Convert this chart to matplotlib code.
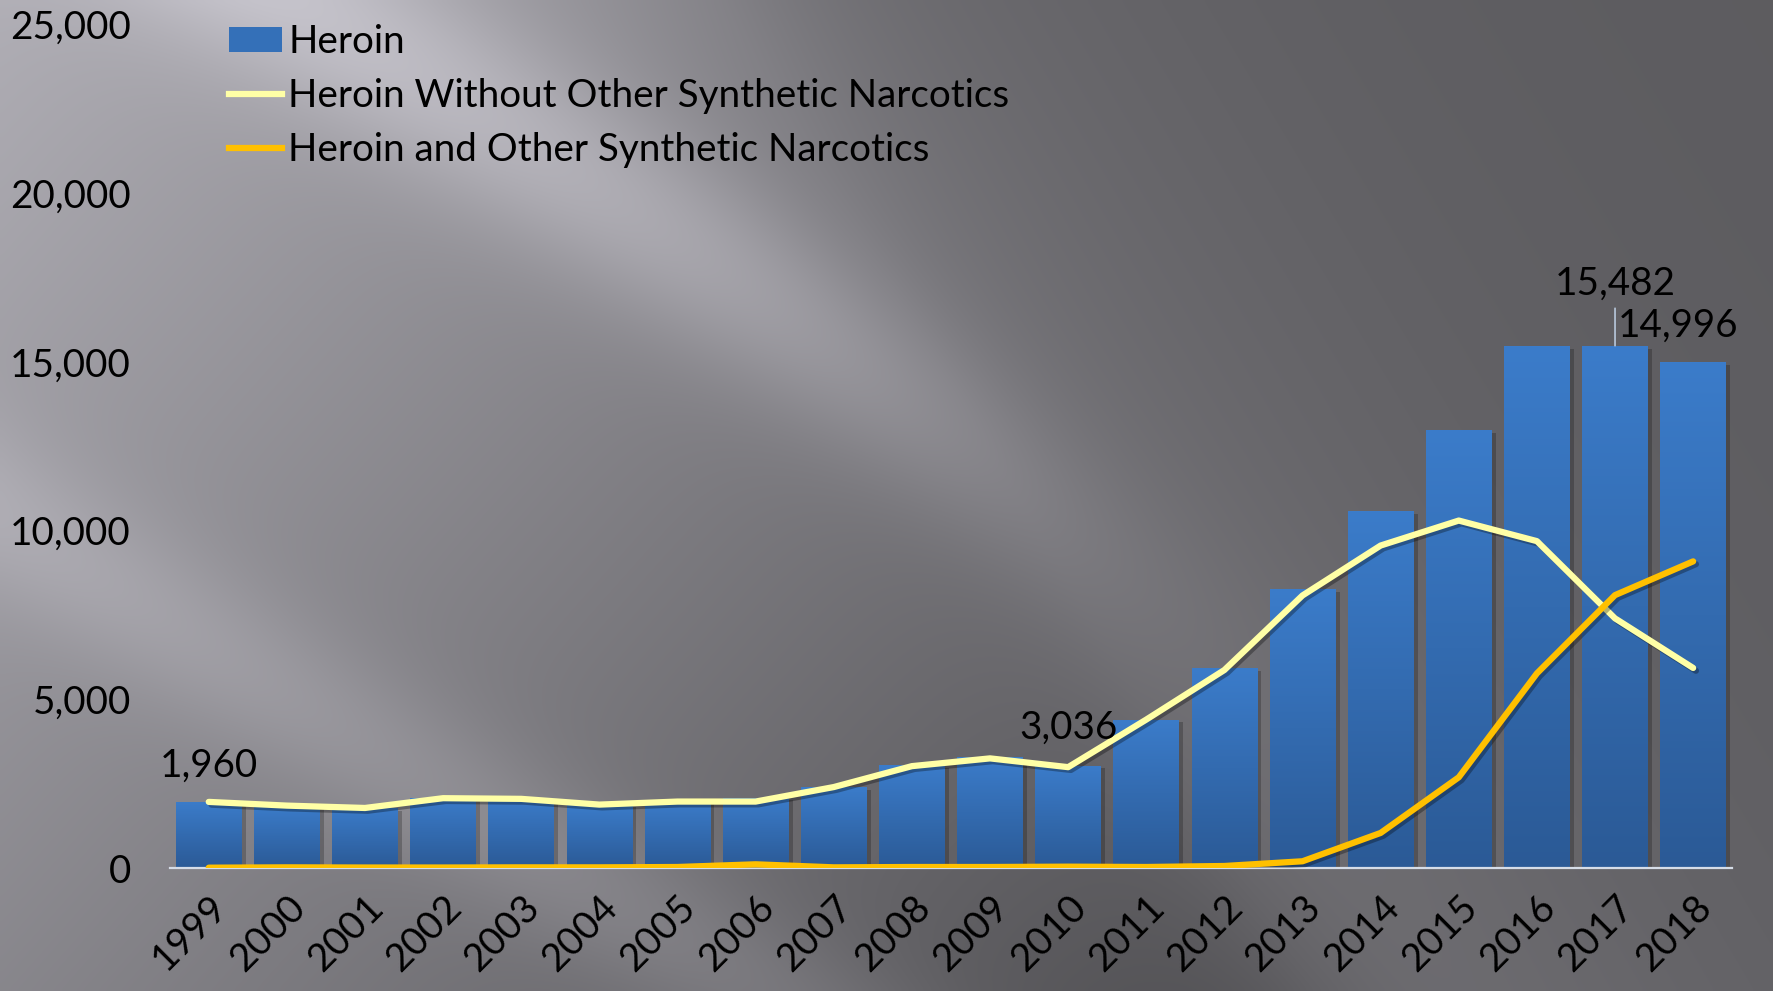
import numpy as np
import matplotlib
matplotlib.use("Agg")
import matplotlib.pyplot as plt
import matplotlib.patheffects as pe
from matplotlib.lines import Line2D
from matplotlib.patches import Patch

# ---------------- data ----------------
years = [str(y) for y in range(1999, 2019)]
heroin = [1960, 1842, 1779, 2089, 2080, 1878, 2009, 2088, 2399, 3041,
          3278, 3036, 4397, 5925, 8257, 10574, 12989, 15469, 15482, 14996]
heroin_without = [1960, 1850, 1780, 2070, 2050, 1880, 1970, 1970, 2400, 3020,
                  3250, 2990, 4400, 5870, 8080, 9560, 10300, 9690, 7400, 5930]
heroin_and = [10, 20, 15, 15, 20, 20, 30, 110, 20, 30,
              30, 40, 30, 60, 200, 1040, 2690, 5770, 8090, 9090]
labeled = {0: "1,960", 11: "3,036", 18: "15,482", 19: "14,996"}
yticks = [0, 5000, 10000, 15000, 20000, 25000]
ytick_labels = ["0", "5,000", "10,000", "15,000", "20,000", "25,000"]
series_names = ["Heroin", "Heroin Without Other Synthetic Narcotics",
                "Heroin and Other Synthetic Narcotics"]

W, H = 1773, 991
FS = 27.8
plt.rcParams['font.family'] = ['Lato', 'DejaVu Sans']

fig = plt.figure(figsize=(W / 100, H / 100), dpi=100)

# ---------------- background (decorative gradient with diagonal streaks) ----------------
bg = fig.add_axes([0, 0, 1, 1])
X, Y = np.meshgrid(np.linspace(0, W, 443), np.linspace(0, H, 248))
q = X - 0.6 * Y
p = X - 1.6 * Y
s = 1.0 / (1.0 + np.exp(-(720 - q) / 60.0))
right_val = 92 + 30 * np.exp(-np.clip(q - 720, 0, None) / 350.0)
left_val = (176 - 0.045 * X - 0.04 * Y
            + 35 * np.exp(-((p - 300) / 180.0) ** 2)
            + 20 * np.exp(-((p + 830) / 150.0) ** 2))
val = np.clip(s * left_val + (1 - s) * right_val, 0, 255) / 255.0
img = np.clip(np.dstack([val * 0.995, val * 0.985, val * 1.025]), 0, 1)
bg.imshow(img, extent=[0, 1, 0, 1], aspect='auto', interpolation='bicubic',
          origin='upper', transform=bg.transAxes)
bg.set_axis_off()

# ---------------- main axes ----------------
ax = fig.add_axes([0.0957, 0.1241, 0.8813, 0.851])
ax.patch.set_alpha(0)
x = np.arange(len(years))

bars = ax.bar(x, heroin, width=0.84, color='#3470b8', zorder=1,
              path_effects=[pe.SimplePatchShadow(offset=(3, -2), shadow_rgbFace='black', alpha=0.22),
                            pe.Normal()])
grad = np.linspace(0, 1, 256).reshape(-1, 1)
top_c = np.array([0x3b, 0x7c, 0xca]) / 255.0
bot_c = np.array([0x2b, 0x5a, 0x96]) / 255.0
gimg = (top_c[None, None, :] * (1 - grad[:, :, None]) + bot_c[None, None, :] * grad[:, :, None])
for b in bars:
    bx, by = b.get_x(), b.get_y()
    bw, bh = b.get_width(), b.get_height()
    im = ax.imshow(gimg, extent=[bx, bx + bw, by, by + bh], aspect='auto',
                   origin='upper', zorder=1.5, interpolation='bilinear')
    im.set_clip_path(b)

shadow = [pe.SimpleLineShadow(offset=(2, -2), alpha=0.3), pe.Normal()]
ax.plot(x, heroin_without, color='#ffffa6', lw=4.5, zorder=3,
        solid_capstyle='round', solid_joinstyle='round', path_effects=shadow)
ax.plot(x, heroin_and, color='#ffc000', lw=4.5, zorder=4,
        solid_capstyle='round', solid_joinstyle='round', path_effects=shadow)

ax.set_xlim(-0.5, len(years) - 0.5)
ax.set_ylim(0, 25000)
ax.set_yticks(yticks)
ax.set_yticklabels(ytick_labels, fontsize=FS)
ax.set_xticks(x)
ax.set_xticklabels(years, fontsize=FS, rotation=45, ha='right', va='top',
                   rotation_mode='anchor')
ax.tick_params(axis='y', length=0, pad=28)
ax.tick_params(axis='x', length=0, pad=15)
for sp in ['top', 'right', 'left']:
    ax.spines[sp].set_visible(False)
ax.spines['bottom'].set_color('#d6dde8')
ax.spines['bottom'].set_linewidth(1.6)
ax.spines['bottom'].set_zorder(2)

# data labels
offsets = {0: (0, 26), 11: (0, 27), 18: (0, 45), 19: (-11, 26)}
for i, txt in labeled.items():
    ax.annotate(txt, xy=(x[i], heroin[i]), xytext=offsets[i], textcoords='offset points',
                ha='center', va='center', fontsize=FS, color='black', zorder=6)
# leader line for 2017 label
ax.annotate("", xy=(x[18], heroin[18]), xytext=(0, 27), textcoords='offset points',
            arrowprops=dict(arrowstyle='-', color='#b8c8dc', lw=1.2, shrinkA=0, shrinkB=0),
            zorder=5)

# legend
handles = [Patch(facecolor='#3470b8', edgecolor='none'),
           Line2D([0], [0], color='#ffffa6', lw=4.5),
           Line2D([0], [0], color='#ffc000', lw=4.5)]
leg = fig.legend(handles, series_names, loc='upper left', bbox_to_anchor=(229 / W, 1 - 24 / H),
                 frameon=False, fontsize=FS, handlelength=1.38, handleheight=0.6,
                 handletextpad=0.15, labelspacing=0.47, borderpad=0, borderaxespad=0)

fig.savefig('out.png', dpi=100)
